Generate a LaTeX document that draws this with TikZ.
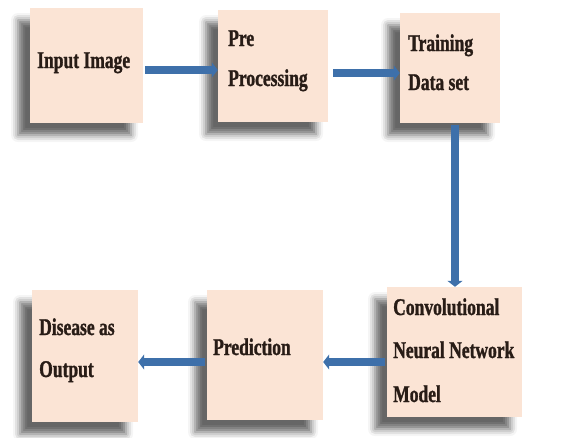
\documentclass[tikz,border=0pt]{standalone}
\usepackage{fontspec}
\newfontfamily\lab[FakeStretch=0.73,FakeBold=1.2]{Liberation Serif}
\usetikzlibrary{shadows.blur,arrows.meta}
\definecolor{peach}{HTML}{FBE4D5}
\definecolor{arrblue}{RGB}{62,112,170}
\definecolor{txt}{RGB}{40,28,22}
\begin{document}
\begin{tikzpicture}[x=1pt,y=-1pt,
  box/.style={draw=none,fill=peach,inner sep=0pt,
    blur shadow={shadow xshift=-12pt,shadow yshift=-12pt,shadow blur radius=7pt,shadow opacity=60}},
  lbl/.style={anchor=base west,inner sep=0pt,text=txt,font=\lab\bfseries\fontsize{24}{26}\selectfont},
  arr/.style={draw=arrblue,line width=7.5pt,-{Triangle[length=6pt,width=15pt]}}]
\useasboundingbox (0,0) rectangle (572,437);
\node[box,minimum width=113pt,minimum height=115pt] (b1) at (86.5,65.5) {};
\node[box,minimum width=110pt,minimum height=112pt] (b2) at (273,66) {};
\node[box,minimum width=100pt,minimum height=110pt] (b3) at (450,68) {};
\node[box,minimum width=106pt,minimum height=132pt] (b4) at (85,356) {};
\node[box,minimum width=116pt,minimum height=130pt] (b5) at (265,355) {};
\node[box,minimum width=135pt,minimum height=130pt] (b6) at (454.5,352) {};
\node[lbl] (t1) at (37,68) {Input Image};
\node[lbl] (t2a) at (228,46) {Pre};
\node[lbl] (t2b) at (228,86) {Processing};
\node[lbl] (t3a) at (408,51) {Training};
\node[lbl] (t3b) at (408,90) {Data set};
\node[lbl] (t4a) at (39,335) {Disease as};
\node[lbl] (t4b) at (39,377) {Output};
\node[lbl] (t5) at (213,355) {Prediction};
\node[lbl] (t6a) at (393,315) {Convolutional};
\node[lbl] (t6b) at (393,358) {Neural Network};
\node[lbl] (t6c) at (393,402) {Model};
\coordinate (a1s) at ([shift={(2pt,-4.5pt)}]b1.east);
\coordinate (a2s) at ([shift={(5pt,-7pt)}]b2.east);
\coordinate (a3s) at ([shift={(5pt,-2pt)}]b3.south);
\coordinate (a4s) at ([shift={(-2pt,-10pt)}]b6.west);
\coordinate (a5s) at ([shift={(-2pt,-7pt)}]b5.west);
\draw[arr] (a1s) -- (a1s -| b2.west);
\draw[arr] (a2s) -- (a2s -| b3.west);
\draw[arr] (a3s) -- (a3s |- b6.north);
\draw[arr] (a4s) -- (a4s -| b5.east);
\draw[arr] (a5s) -- (a5s -| b4.east);
\end{tikzpicture}
\end{document}
